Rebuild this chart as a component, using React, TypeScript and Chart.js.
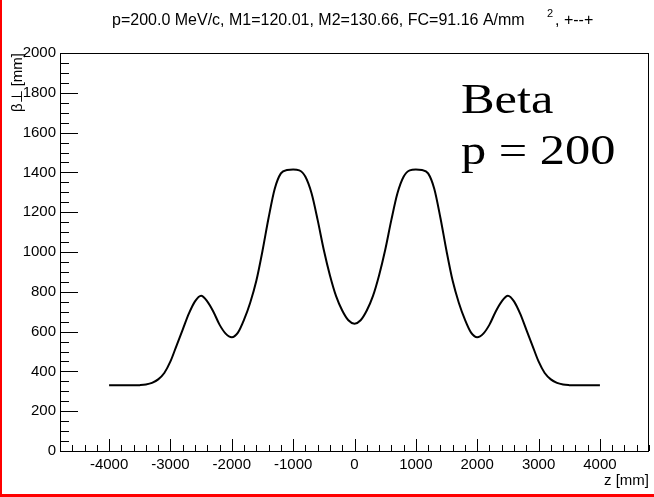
import { useEffect, useRef } from "react";
import { Chart, registerables } from "chart.js";

Chart.register(...registerables);

// ---- data ----
const zValues = [
  -4000, -3900, -3800, -3700, -3600, -3500, -3400, -3300, -3200, -3100,
  -3000, -2900, -2800, -2700, -2600, -2500, -2400, -2300, -2200, -2100,
  -2000, -1900, -1800, -1700, -1600, -1500, -1400, -1300, -1200, -1100,
  -1000, -900, -800, -700, -600, -500, -400, -300, -200, -100,
  0,
  100, 200, 300, 400, 500, 600, 700, 800, 900, 1000,
  1100, 1200, 1300, 1400, 1500, 1600, 1700, 1800, 1900, 2000,
  2100, 2200, 2300, 2400, 2500, 2600, 2700, 2800, 2900, 3000,
  3100, 3200, 3300, 3400, 3500, 3600, 3700, 3800, 3900, 4000,
];

const betaValues = [
  330, 330, 330, 330, 330, 331, 334, 342, 360, 392,
  450, 530, 610, 690, 752, 780, 752, 700, 635, 590,
  572, 595, 660, 745, 855, 1005, 1172, 1318, 1395, 1412,
  1414, 1410, 1378, 1295, 1160, 1010, 882, 778, 706, 657,
  640,
  657, 706, 778, 882, 1010, 1160, 1295, 1378, 1410, 1414,
  1412, 1395, 1318, 1172, 1005, 855, 745, 660, 595, 572,
  590, 635, 700, 752, 780, 752, 690, 610, 530, 450,
  392, 360, 342, 334, 331, 330, 330, 330, 330, 330,
];

const xTickValues = [-4000, -3000, -2000, -1000, 0, 1000, 2000, 3000, 4000];
const yTickValues = [0, 200, 400, 600, 800, 1000, 1200, 1400, 1600, 1800, 2000];

const titleMain = "p=200.0 MeV/c, M1=120.01, M2=130.66, FC=91.16 A/mm";
const titleSup = "2";
const titleTail = ", +--+";
const annotationLines = ["Beta", "p = 200"];
const xAxisTitle = "z [mm]";
const yAxisTitle = "β⊥ [mm]";

const SANS = "'Liberation Sans', Arial, Helvetica, sans-serif";
const SERIF = "'Liberation Serif', 'Times New Roman', serif";

const rootStylePlugin = {
  id: "rootStyle",
  beforeDraw(chart: any) {
    const { ctx, width, height } = chart;
    ctx.save();
    ctx.fillStyle = "#ffffff";
    ctx.fillRect(0, 0, width, height);
    ctx.restore();
  },
  afterDraw(chart: any) {
    const { ctx, chartArea, scales, width, height } = chart;
    const { left, right, top, bottom } = chartArea;
    const xs = scales.x;
    const ys = scales.y;
    ctx.save();

    // frame
    ctx.strokeStyle = "#000";
    ctx.lineWidth = 1;
    ctx.strokeRect(Math.round(left) + 0.5, Math.round(top) + 0.5, Math.round(right - left) - 1, Math.round(bottom - top));

    // x ticks (inside, from bottom)
    ctx.beginPath();
    for (let v = xs.min; v <= xs.max + 1e-6; v += 200) {
      const px = Math.round(xs.getPixelForValue(v)) + 0.5;
      const major = Math.abs(v % 1000) < 1e-6;
      const len = major ? 12 : 6;
      ctx.moveTo(px, bottom);
      ctx.lineTo(px, bottom - len);
    }
    // y ticks (inside, from left)
    for (let v = ys.min; v <= ys.max + 1e-6; v += 50) {
      const py = Math.round(ys.getPixelForValue(v)) + 0.5;
      const major = Math.abs(v % 200) < 1e-6;
      const len = major ? 18 : 9;
      ctx.moveTo(left, py);
      ctx.lineTo(left + len, py);
    }
    ctx.stroke();

    // title
    ctx.fillStyle = "#000";
    ctx.textBaseline = "alphabetic";
    ctx.textAlign = "left";
    ctx.font = `16px ${SANS}`;
    ctx.fillText(titleMain, 112, 25);
    ctx.font = `11px ${SANS}`;
    ctx.fillText(titleSup, 547, 17);
    ctx.font = `16px ${SANS}`;
    ctx.fillText(titleTail, 555, 25);

    // annotation
    ctx.font = `42px ${SERIF}`;
    annotationLines.forEach((line, i) => {
      ctx.save();
      ctx.translate(461, 113 + i * 51);
      ctx.scale(1.2, 1);
      ctx.fillText(line, 0, 0);
      ctx.restore();
    });

    // red page border (left and bottom)
    ctx.fillStyle = "#ff0000";
    ctx.fillRect(0, 0, 2, height);
    ctx.fillRect(0, height - 3, width, 3);

    ctx.restore();
  },
};

export default function App() {
  const canvasRef = useRef<HTMLCanvasElement | null>(null);

  useEffect(() => {
    const canvas = canvasRef.current;
    if (!canvas) return;
    const chart = new Chart(canvas, {
      type: "line",
      data: {
        datasets: [
          {
            data: zValues.map((z, i) => ({ x: z, y: betaValues[i] })),
            borderColor: "#000",
            borderWidth: 2,
            pointRadius: 0,
            cubicInterpolationMode: "monotone",
            fill: false,
          },
        ],
      },
      options: {
        responsive: false,
        animation: false,
        devicePixelRatio: 1,
        layout: { padding: { left: 0, top: 53, right: 5, bottom: 0 } },
        plugins: {
          legend: { display: false },
          tooltip: { enabled: false },
          title: { display: false },
        },
        scales: {
          x: {
            type: "linear",
            min: -4800,
            max: 4800,
            afterBuildTicks: (scale: any) => {
              scale.ticks = xTickValues.map((value) => ({ value }));
            },
            afterFit: (scale: any) => {
              scale.height = 46;
            },
            grid: { display: false, drawTicks: false },
            border: { display: false },
            ticks: {
              color: "#000",
              font: { family: SANS, size: 15 },
              padding: 5,
              maxRotation: 0,
              autoSkip: false,
              callback: (value: any) => String(value),
            },
            title: {
              display: true,
              text: xAxisTitle,
              align: "end",
              color: "#000",
              font: { family: SANS, size: 15 },
              padding: { top: 0, bottom: 7 },
            },
          },
          y: {
            type: "linear",
            min: 0,
            max: 2000,
            afterBuildTicks: (scale: any) => {
              scale.ticks = yTickValues.map((value) => ({ value }));
            },
            afterFit: (scale: any) => {
              scale.width = 60;
            },
            grid: { display: false, drawTicks: false },
            border: { display: false },
            ticks: {
              color: "#000",
              font: { family: SANS, size: 15 },
              padding: 4,
              callback: (value: any) => String(value),
            },
            title: {
              display: true,
              text: yAxisTitle,
              align: "end",
              color: "#000",
              font: { family: SANS, size: 15 },
              padding: { top: 9, bottom: 0 },
            },
          },
        },
      },
      plugins: [rootStylePlugin],
    } as any);
    return () => chart.destroy();
  }, []);

  return (
    <div style={{ position: "absolute", left: 0, top: 0, width: 654, height: 497 }}>
      <canvas ref={canvasRef} width={654} height={497} style={{ display: "block", width: 654, height: 497 }} />
    </div>
  );
}
